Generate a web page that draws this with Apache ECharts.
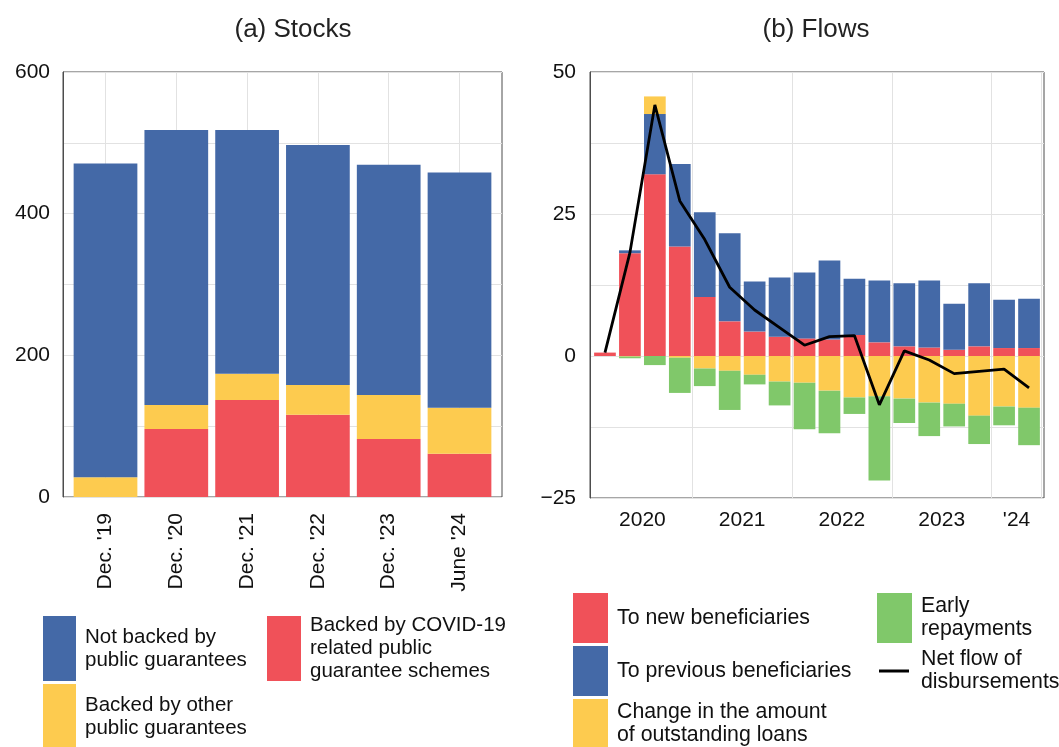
<!DOCTYPE html>
<html>
<head>
<meta charset="utf-8">
<script src="https://cdn.jsdelivr.net/npm/echarts@6/dist/echarts.min.js"></script>
<style>
  html, body { margin: 0; padding: 0; background: #fff; }
  #chart { width: 1059px; height: 747px; }
</style>
</head>
<body>
<div id="chart"></div>
<script>
// ---------- Data ----------
const stockCategories = ["Dec. '19", "Dec. '20", "Dec. '21", "Dec. '22", "Dec. '23", "June '24"];
const stockCovid = [0, 96, 137, 116, 82, 61];
const stockOther = [28, 34, 37, 42, 62, 65];
const stockNotBacked = [443, 388, 344, 339, 325, 332];

const flowQuarters = ['2020 Q1', '2020 Q2', '2020 Q3', '2020 Q4',
                      '2021 Q1', '2021 Q2', '2021 Q3', '2021 Q4',
                      '2022 Q1', '2022 Q2', '2022 Q3', '2022 Q4',
                      '2023 Q1', '2023 Q2', '2023 Q3', '2023 Q4',
                      '2024 Q1', '2024 Q2'];
const flowNew = [0.6, 18.1, 32.0, 19.3, 10.4, 6.1, 4.3, 3.4, 3.1, 2.9, 3.7, 2.4, 1.7, 1.5, 1.1, 1.7, 1.4, 1.4];
const flowPrev = [0, 0.5, 10.6, 14.5, 14.9, 15.5, 8.8, 10.4, 11.6, 13.9, 9.9, 10.9, 11.1, 11.8, 8.1, 11.1, 8.5, 8.7];
const flowChange = [0, -0.1, 3.1, -0.3, -2.2, -2.6, -3.3, -4.5, -4.7, -6.1, -7.3, -7.1, -7.5, -8.2, -8.4, -10.5, -8.9, -9.1];
const flowEarly = [0, -0.3, -1.6, -6.2, -3.1, -6.9, -1.7, -4.2, -8.2, -7.5, -2.9, -14.8, -4.3, -5.9, -4.0, -5.0, -3.3, -6.6];
const flowNet = [0.6, 18.2, 44.2, 27.3, 20.5, 12.1, 8.1, 5.0, 1.9, 3.4, 3.6, -8.6, 0.9, -0.7, -3.1, -2.7, -2.3, -5.6];

const yearTickPositions = [2, 6, 10, 14, 17];
const yearLabels = ['2020', '2021', '2022', '2023', "'24"];

const stockTicks = [0, 200, 400, 600];
const flowTicks = [-25, 0, 25, 50];

// ---------- Style ----------
const BLUE = '#4469a7', RED = '#f05159', YELLOW = '#fdcb4f', GREEN = '#80c86a';
const FONT = 'Liberation Sans, Arial, Helvetica, sans-serif';
const AXIS_COLOR = '#4d4d4d', GRID_COLOR = '#e2e2e2', TEXT = '#111';

const N_NOT = 'Not backed by\npublic guarantees';
const N_OTHER = 'Backed by other\npublic guarantees';
const N_COVID = 'Backed by COVID-19\nrelated public\nguarantee schemes';
const N_NEW = 'To new beneficiaries';
const N_PREV = 'To previous beneficiaries';
const N_CHG = 'Change in the amount\nof outstanding loans';
const N_EARLY = 'Early\nrepayments';
const N_NET = 'Net flow of\ndisbursements';

const fmtNum = v => (v < 0 ? '\u2212' + Math.abs(v) : String(v));

const legendText = { fontFamily: FONT, fontSize: 20.5, lineHeight: 23, color: TEXT, padding: [0, 0, 0, 4] };
const legendTextR = { fontFamily: FONT, fontSize: 21.3, lineHeight: 23, color: TEXT, padding: [0, 0, 0, 4] };
const legendBase = { orient: 'vertical', padding: 0, height: 200, selectedMode: false, textStyle: legendText };

const chart = echarts.init(document.getElementById('chart'), null, { renderer: 'canvas' });

const option = {
  animation: false,
  backgroundColor: '#fff',
  textStyle: { fontFamily: FONT },
  title: [
    { text: '(a) Stocks', left: 288, top: 12, textAlign: 'center',
      textStyle: { fontFamily: FONT, fontSize: 26, fontWeight: 'normal', color: '#222' } },
    { text: '(b) Flows', left: 811, top: 12, textAlign: 'center',
      textStyle: { fontFamily: FONT, fontSize: 26, fontWeight: 'normal', color: '#222' } }
  ],
  grid: [
    // 0: stocks frame, 1: stocks bars
    { left: 63, top: 72, width: 439, height: 425, show: true, borderColor: AXIS_COLOR, borderWidth: 1 },
    { left: 70.1, top: 72, width: 424.8, height: 425, show: false },
    // 2: flows frame, 3: flows bars
    { left: 590, top: 72, width: 454, height: 426, show: true, borderColor: AXIS_COLOR, borderWidth: 1 },
    { left: 592.5, top: 72, width: 449, height: 426, show: false }
  ],
  legend: [
    Object.assign({}, legendBase, { left: 43, top: 616, itemWidth: 33, itemHeight: 65, itemGap: 3,
      icon: 'rect', data: [N_NOT, N_OTHER] }),
    Object.assign({}, legendBase, { left: 267, top: 614, itemWidth: 34, itemHeight: 65, itemGap: 3,
      icon: 'rect', data: [N_COVID] }),
    Object.assign({}, legendBase, { left: 573, top: 593, itemWidth: 35, itemHeight: 50, itemGap: 3,
      icon: 'rect', textStyle: legendTextR, data: [N_NEW, N_PREV, N_CHG] }),
    Object.assign({}, legendBase, { left: 877, top: 593, itemWidth: 35, itemHeight: 50, itemGap: 3,
      icon: 'rect', textStyle: legendTextR, data: [N_EARLY] }),
    Object.assign({}, legendBase, { left: 879, top: 648, itemWidth: 30, itemHeight: 3,
      icon: 'rect', lineStyle: { width: 3, color: '#000' },
      textStyle: Object.assign({}, legendTextR, { padding: [0, 0, 0, 7] }),
      data: [N_NET] })
  ],
  xAxis: [
    { type: 'value', gridIndex: 0, show: false, min: 0, max: 1 },
    { type: 'category', gridIndex: 1, data: stockCategories,
      axisLine: { show: false, onZero: false }, axisTick: { show: false },
      splitLine: { show: true, alignWithLabel: true, lineStyle: { color: GRID_COLOR } },
      axisLabel: { rotate: 90, margin: 16, fontSize: 21, color: TEXT, fontFamily: FONT, interval: 0 } },
    { type: 'value', gridIndex: 2, show: false, min: 0, max: 1 },
    { type: 'category', gridIndex: 3, data: flowQuarters,
      axisLine: { show: false, onZero: false }, axisTick: { show: false },
      axisLabel: { show: false },
      splitLine: { show: true, interval: (i) => i % 4 === 0 && i > 0, lineStyle: { color: GRID_COLOR } } },
    { type: 'value', gridIndex: 3, min: 0, max: flowQuarters.length, interval: 1, position: 'bottom',
      axisLine: { show: false, onZero: false }, axisTick: { show: false }, splitLine: { show: false },
      axisLabel: { margin: 12, fontSize: 21, color: TEXT, fontFamily: FONT,
        showMinLabel: true, showMaxLabel: true,
        formatter: (v) => { const r = Math.round(v); const k = yearTickPositions.indexOf(r); return k >= 0 && Math.abs(v - r) < 1e-6 ? yearLabels[k] : ''; } } }
  ],
  yAxis: [
    { type: 'value', gridIndex: 0, min: 0, max: 600, interval: 100,
      axisLine: { show: true, lineStyle: { color: AXIS_COLOR } }, axisTick: { show: false },
      splitLine: { show: true, lineStyle: { color: GRID_COLOR } },
      axisLabel: { margin: 13, fontSize: 21, color: TEXT, fontFamily: FONT,
        formatter: (v) => stockTicks.indexOf(v) >= 0 ? fmtNum(v) : '' } },
    { type: 'value', gridIndex: 1, show: false, min: 0, max: 600, splitLine: { show: false } },
    { type: 'value', gridIndex: 2, min: -25, max: 50, interval: 12.5,
      axisLine: { show: true, lineStyle: { color: AXIS_COLOR } }, axisTick: { show: false },
      splitLine: { show: true, lineStyle: { color: GRID_COLOR } },
      axisLabel: { margin: 14, fontSize: 21, color: TEXT, fontFamily: FONT,
        formatter: (v) => flowTicks.indexOf(v) >= 0 ? fmtNum(v) : '' } },
    { type: 'value', gridIndex: 3, show: false, min: -25, max: 50, splitLine: { show: false } }
  ],
  series: [
    { name: N_COVID, type: 'bar', stack: 's', xAxisIndex: 1, yAxisIndex: 1, data: stockCovid,
      itemStyle: { color: RED }, barCategoryGap: '10%' },
    { name: N_OTHER, type: 'bar', stack: 's', xAxisIndex: 1, yAxisIndex: 1, data: stockOther,
      itemStyle: { color: YELLOW }, barCategoryGap: '10%' },
    { name: N_NOT, type: 'bar', stack: 's', xAxisIndex: 1, yAxisIndex: 1, data: stockNotBacked,
      itemStyle: { color: BLUE }, barCategoryGap: '10%' },

    { name: N_NEW, type: 'bar', stack: 'f', xAxisIndex: 3, yAxisIndex: 3, data: flowNew,
      itemStyle: { color: RED }, barCategoryGap: '13%' },
    { name: N_PREV, type: 'bar', stack: 'f', xAxisIndex: 3, yAxisIndex: 3, data: flowPrev,
      itemStyle: { color: BLUE }, barCategoryGap: '13%' },
    { name: N_CHG, type: 'bar', stack: 'f', xAxisIndex: 3, yAxisIndex: 3, data: flowChange,
      itemStyle: { color: YELLOW }, barCategoryGap: '13%' },
    { name: N_EARLY, type: 'bar', stack: 'f', xAxisIndex: 3, yAxisIndex: 3, data: flowEarly,
      itemStyle: { color: GREEN }, barCategoryGap: '13%' },
    { name: N_NET, type: 'line', xAxisIndex: 3, yAxisIndex: 3, data: flowNet, z: 5,
      symbol: 'none', showSymbol: false, lineStyle: { color: '#000', width: 2.8 }, itemStyle: { color: '#000' } }
  ]
};

chart.setOption(option);
</script>
</body>
</html>
